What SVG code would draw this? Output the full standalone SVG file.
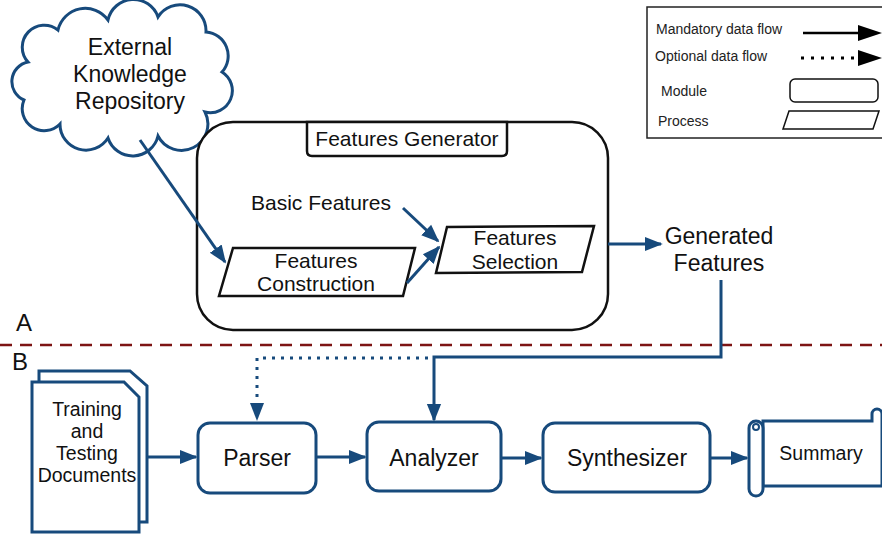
<svg xmlns="http://www.w3.org/2000/svg" width="882" height="535" viewBox="0 0 882 535">
<defs>
<marker id="ah" viewBox="0 0 10 10" refX="9" refY="5" markerWidth="6" markerHeight="6" orient="auto" markerUnits="strokeWidth"><path d="M0,1 L10,5 L0,9 z" fill="#174a7c"/></marker>
<style>
text{font-family:"Liberation Sans",Arial,sans-serif;fill:#111;text-anchor:middle}
.b{fill:#fff;stroke:#174a7c;stroke-width:3}
.k{fill:#fff;stroke:#111;stroke-width:2.5}
.c{fill:none;stroke:#174a7c;stroke-width:3}
.t23{font-size:23px}
.t21{font-size:21px}
.t19{font-size:19.5px}
.lg{font-size:14px;text-anchor:start;fill:#222}
</style>
</defs>
<rect width="882" height="535" fill="#fff"/>

<g id="legend">
<rect x="647" y="7" width="240" height="131" fill="#fff" stroke="#222" stroke-width="1.5"/>
<text class="lg" x="656" y="34">Mandatory data flow</text>
<text class="lg" x="655" y="61">Optional data flow</text>
<text class="lg" x="661" y="96">Module</text>
<text class="lg" x="658" y="126">Process</text>
<line x1="803" y1="33" x2="860" y2="33" stroke="#000" stroke-width="2.5"/>
<path d="M858,25 L882,33 L858,41 z" fill="#000"/>
<line x1="801" y1="58" x2="856" y2="58" stroke="#000" stroke-width="3" stroke-dasharray="3,7"/>
<path d="M858,50 L882,58 L858,66 z" fill="#000"/>
<rect x="790" y="79" width="88" height="23" rx="5" fill="#fff" stroke="#111" stroke-width="1.5"/>
<path d="M789,111 L879,111 L873,129 L783,129 z" fill="#fff" stroke="#111" stroke-width="1.5"/>
</g>

<g id="cloud">
<path class="b" d="M28,62 A22,22 0 0 1 58,30 A28,28 0 0 1 108,20 A26,26 0 0 1 158,17 A26,26 0 0 1 206,32 A24,24 0 0 1 222,72 A22,22 0 0 1 205,112 A26,26 0 0 1 158,136 A26,26 0 0 1 108,138 A26,26 0 0 1 60,124 A22,22 0 0 1 24,100 A20,20 0 0 1 28,62 z"/>
<text class="t23" x="130" y="55">External</text>
<text class="t23" x="130" y="82">Knowledge</text>
<text class="t23" x="130" y="109">Repository</text>
</g>

<g id="features-generator">
<rect class="k" x="197" y="122" width="411" height="208" rx="36"/>
<path d="M307,122 L507,122 L507,151 Q507,156 502,156 L312,156 Q307,156 307,151 z" class="k"/>
<text class="t21" x="407" y="146">Features Generator</text>
</g>

<g id="basic-features">
<text class="t21" x="321" y="210">Basic Features</text>
</g>

<g id="features-construction">
<path class="k" d="M233,248 L415,248 L403,296 L219,296 z"/>
<text class="t21" x="316" y="268">Features</text>
<text class="t21" x="316" y="291">Construction</text>
</g>

<g id="features-selection">
<path class="k" d="M447,227 L594,226 L582,272 L436,273 z"/>
<text class="t21" x="515" y="245">Features</text>
<text class="t21" x="515" y="269">Selection</text>
</g>

<g id="generated-features">
<text class="t23" x="719" y="244">Generated</text>
<text class="t23" x="719" y="271">Features</text>
</g>

<g id="labels">
<text x="24" y="331" style="font-size:24px">A</text>
<text x="20" y="370" style="font-size:24px">B</text>
</g>

<g id="documents">
<path class="b" d="M39,371 L130,371 L147,386 L147,522 L39,522 z"/>
<path class="b" d="M32,382 L124,382 L139,397 L139,532 L32,532 z"/>
<text class="t19" x="87" y="416">Training</text>
<text class="t19" x="87" y="438">and</text>
<text class="t19" x="87" y="460">Testing</text>
<text class="t19" x="87" y="482">Documents</text>
</g>

<g id="parser">
<rect class="b" x="198" y="423" width="118" height="70" rx="12"/>
<text class="t23" x="257" y="466">Parser</text>
</g>

<g id="analyzer">
<rect class="b" x="367" y="422" width="134" height="69" rx="12"/>
<text class="t23" x="434" y="466">Analyzer</text>
</g>

<g id="synthesizer">
<rect class="b" x="543" y="423" width="167" height="69" rx="12"/>
<text class="t23" x="627" y="466">Synthesizer</text>
</g>

<g id="summary">
<path class="b" d="M763,421 L872,421 L872,414 A5,5 0 0 1 882,414 L882,486 L763,486 z"/>
<rect class="b" x="749" y="421" width="14" height="75" rx="7"/>
<circle cx="756" cy="427" r="3" fill="none" stroke="#174a7c" stroke-width="2"/>
<text class="t19" x="821" y="460">Summary</text>
</g>

<g id="connectors">
<line x1="0" y1="345" x2="882" y2="345" stroke="#7d1414" stroke-width="2.5" stroke-dasharray="12,8"/>
<line class="c" x1="140" y1="140" x2="225" y2="262" marker-end="url(#ah)"/>
<line class="c" x1="403" y1="208" x2="438" y2="241" marker-end="url(#ah)"/>
<line class="c" x1="407" y1="283" x2="439" y2="247" marker-end="url(#ah)"/>
<line class="c" x1="608" y1="244" x2="661" y2="244" marker-end="url(#ah)"/>
<polyline class="c" points="721,280 721,357 434,357 434,420" marker-end="url(#ah)"/>
<polyline fill="none" stroke="#174a7c" stroke-width="3" stroke-dasharray="3,6" points="428,358 257,358 257,403"/>
<path d="M250,403 L264,403 L257,421 z" fill="#174a7c"/>
<line class="c" x1="147" y1="457" x2="196" y2="457" marker-end="url(#ah)"/>
<line class="c" x1="316" y1="457" x2="365" y2="457" marker-end="url(#ah)"/>
<line class="c" x1="501" y1="458" x2="541" y2="458" marker-end="url(#ah)"/>
<line class="c" x1="710" y1="458" x2="747" y2="458" marker-end="url(#ah)"/>
</g>
</svg>
